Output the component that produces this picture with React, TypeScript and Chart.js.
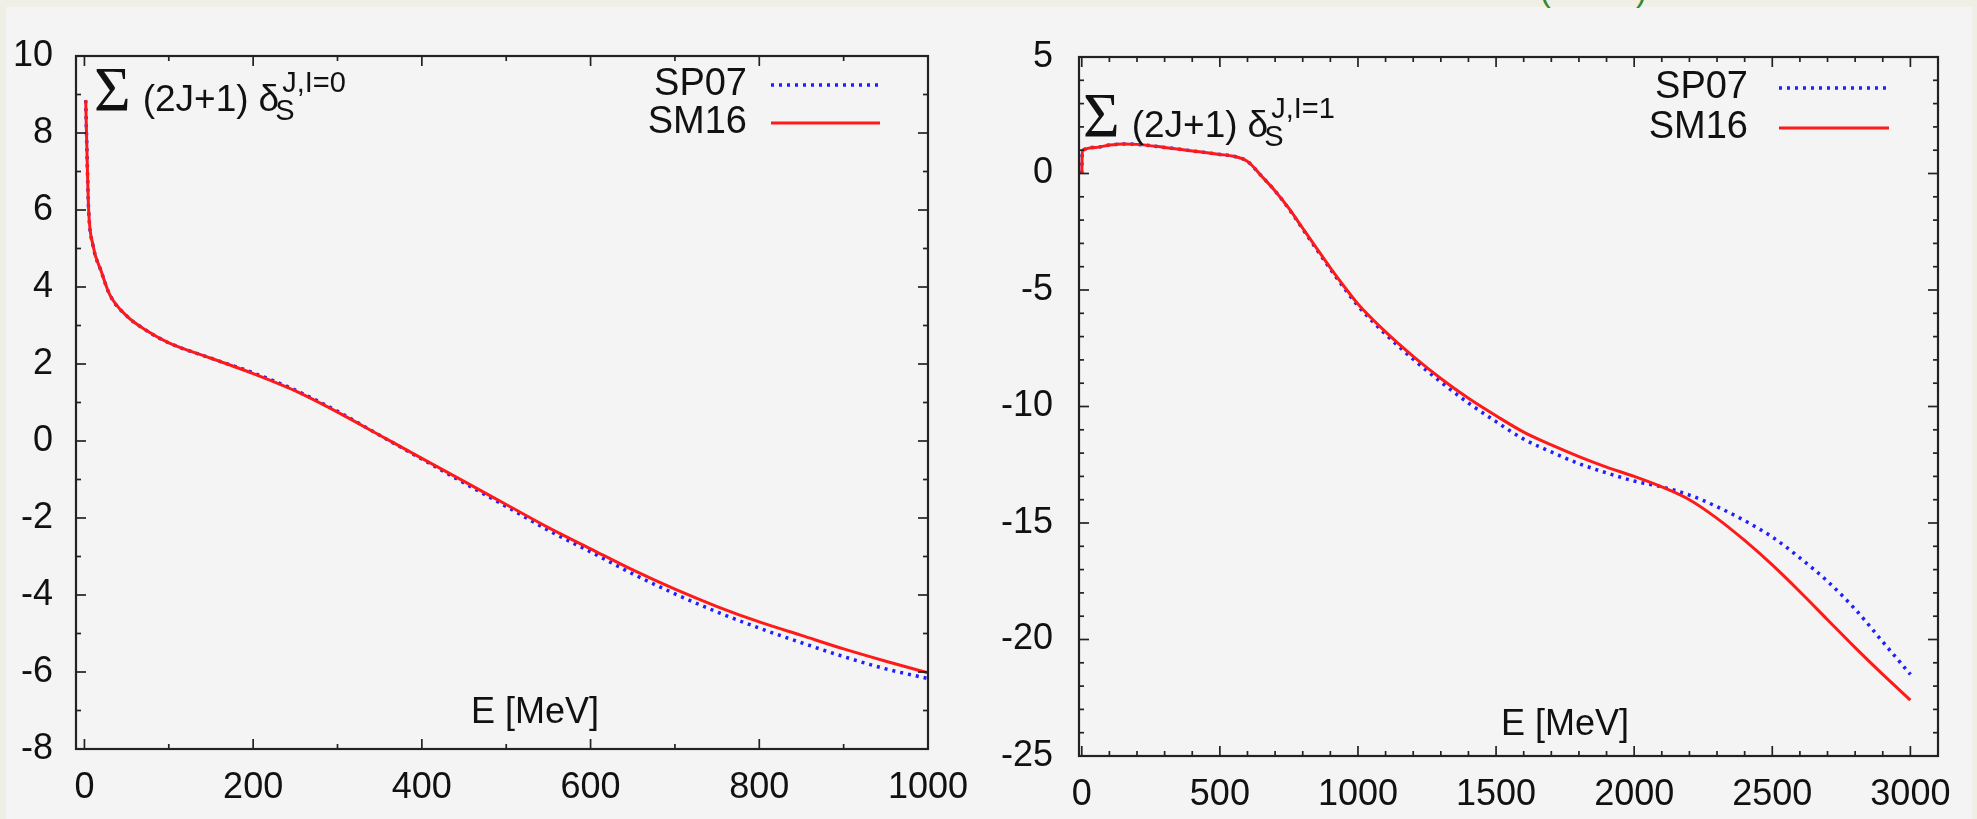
import React, { useEffect, useRef } from 'react';
import { Chart, registerables } from 'chart.js';

Chart.register(...registerables);

// ---------- data ----------
const energyI0 = [1.5, 3, 5, 10, 20, 30, 50, 75, 100, 150, 200, 250, 300, 350, 400, 450, 500, 550, 600, 650, 700, 750, 800, 850, 900, 950, 1000];
const sm16I0 = [8.85, 7.5, 6.0, 5.1, 4.4, 3.8, 3.25, 2.85, 2.55, 2.15, 1.75, 1.3, 0.75, 0.15, -0.45, -1.05, -1.65, -2.25, -2.8, -3.35, -3.85, -4.3, -4.7, -5.05, -5.4, -5.72, -6.02];
const sp07I0 = [8.85, 7.5, 6.0, 5.1, 4.4, 3.8, 3.25, 2.85, 2.55, 2.15, 1.77, 1.32, 0.77, 0.15, -0.47, -1.09, -1.7, -2.32, -2.88, -3.45, -3.97, -4.44, -4.86, -5.24, -5.6, -5.92, -6.17];

const energyI1 = [0, 2, 50, 100, 150, 200, 300, 400, 500, 550, 600, 650, 700, 750, 800, 850, 900, 950, 1000, 1100, 1200, 1300, 1400, 1500, 1600, 1700, 1800, 1900, 2000, 2100, 2200, 2300, 2400, 2500, 2600, 2700, 2800, 2900, 3000];
const sm16I1 = [0, 0.98, 1.12, 1.22, 1.27, 1.25, 1.12, 0.97, 0.82, 0.74, 0.52, -0.1, -0.75, -1.5, -2.35, -3.2, -4.05, -4.85, -5.6, -6.8, -7.85, -8.8, -9.65, -10.4, -11.1, -11.65, -12.15, -12.6, -13.0, -13.45, -14.0, -14.8, -15.75, -16.8, -17.95, -19.15, -20.35, -21.5, -22.6];
const sp07I1 = [0, 0.98, 1.12, 1.22, 1.27, 1.25, 1.12, 0.97, 0.82, 0.74, 0.52, -0.1, -0.75, -1.52, -2.38, -3.25, -4.1, -4.92, -5.68, -6.9, -7.97, -8.95, -9.85, -10.65, -11.4, -11.95, -12.45, -12.85, -13.2, -13.45, -13.8, -14.3, -14.9, -15.6, -16.5, -17.5, -18.7, -20.1, -21.5];

const xTicksI0 = [0, 200, 400, 600, 800, 1000];
const yTicksI0 = [10, 8, 6, 4, 2, 0, -2, -4, -6, -8];
const xTicksI1 = [0, 500, 1000, 1500, 2000, 2500, 3000];
const yTicksI1 = [5, 0, -5, -10, -15, -20, -25];

const seriesNames = ['SP07', 'SM16'];
const xLabel = 'E [MeV]';

// ---------- styles ----------
const BLUE = '#1f1fff';
const RED = '#ff1a1a';
const SANS = '"Liberation Sans", Arial, Helvetica, sans-serif';
const SERIF = '"Liberation Serif", "Times New Roman", serif';

const gnuPlugin = {
  id: 'gnu',
  afterDatasetsDraw(chart: any, _args: any, o: any) {
    const ctx = chart.ctx as CanvasRenderingContext2D;
    const a = chart.chartArea;
    const xs = chart.scales.x;
    const ys = chart.scales.y;
    ctx.save();
    // ticks (inward, all four sides)
    ctx.strokeStyle = '#222';
    ctx.lineWidth = 1.7;
    const seg = (x1: number, y1: number, x2: number, y2: number) => {
      ctx.beginPath();
      ctx.moveTo(x1, y1);
      ctx.lineTo(x2, y2);
      ctx.stroke();
    };
    const xStart = Math.ceil(xs.min / o.xMinor) * o.xMinor;
    for (let v = xStart; v <= xs.max + 1e-9; v += o.xMinor) {
      const major = Math.abs(v / o.xMajor - Math.round(v / o.xMajor)) < 1e-6;
      const len = major ? 10 : 5;
      const px = xs.getPixelForValue(v);
      seg(px, a.bottom, px, a.bottom - len);
      seg(px, a.top, px, a.top + len);
    }
    const yStart = Math.ceil(ys.min / o.yMinor) * o.yMinor;
    for (let v = yStart; v <= ys.max + 1e-9; v += o.yMinor) {
      const major = Math.abs(v / o.yMajor - Math.round(v / o.yMajor)) < 1e-6;
      const len = major ? 10 : 5;
      const py = ys.getPixelForValue(v);
      seg(a.left, py, a.left + len, py);
      seg(a.right, py, a.right - len, py);
    }
    // frame
    ctx.lineWidth = 2.2;
    ctx.strokeRect(a.left, a.top, a.right - a.left, a.bottom - a.top);

    // legend (gnuplot style: text right aligned, sample to the right)
    ctx.font = `38px ${SANS}`;
    ctx.textAlign = 'right';
    ctx.textBaseline = 'middle';
    chart.data.datasets.forEach((ds: any, i: number) => {
      const yy = a.top + o.legendY[i];
      ctx.fillStyle = '#111';
      ctx.fillText(ds.label, a.left + o.legendTextRight, yy);
      ctx.save();
      ctx.strokeStyle = ds.borderColor;
      ctx.lineWidth = ds.borderWidth;
      ctx.setLineDash(ds.borderDash || []);
      seg(a.left + o.legendLine[0], yy, a.left + o.legendLine[1], yy);
      ctx.restore();
    });

    // title: Σ (2J+1) δ_S^{J,I=n}
    ctx.textAlign = 'left';
    ctx.textBaseline = 'alphabetic';
    ctx.fillStyle = '#111';
    let tx = a.left + o.titleX;
    const by = a.top + o.titleBase;
    ctx.font = `63px ${SERIF}`;
    ctx.fillText('Σ', tx, by);
    tx += ctx.measureText('Σ').width + 12;
    ctx.font = `37px ${SANS}`;
    ctx.fillText('(2J+1)', tx, by);
    tx += ctx.measureText('(2J+1)').width + 10;
    ctx.fillText('δ', tx, by);
    const dw = ctx.measureText('δ').width;
    ctx.font = `29px ${SANS}`;
    ctx.fillText('S', tx + dw - 4, by + 9);
    ctx.fillText(o.sup, tx + dw + 3, by - 19);

    // axis label inside plot
    ctx.font = `36px ${SANS}`;
    ctx.textAlign = 'center';
    ctx.textBaseline = 'middle';
    ctx.fillText(xLabel, a.left + o.xLabelX, a.top + o.xLabelY);
    ctx.restore();
  },
};

function makeConfig(p: any) {
  const tickFont = { family: SANS, size: 36 };
  const plain = (v: any) => String(v);
  return {
    type: 'line',
    data: {
      datasets: [
        {
          label: seriesNames[0],
          data: p.energy.map((e: number, i: number) => ({ x: e, y: p.sp07[i] })),
          borderColor: BLUE,
          borderWidth: 3.5,
          borderDash: [3, 5],
          pointRadius: 0,
          fill: false,
          cubicInterpolationMode: 'monotone',
          order: 1,
        },
        {
          label: seriesNames[1],
          data: p.energy.map((e: number, i: number) => ({ x: e, y: p.sm16[i] })),
          borderColor: RED,
          borderWidth: 3,
          pointRadius: 0,
          fill: false,
          cubicInterpolationMode: 'monotone',
          order: 0,
        },
      ],
    },
    options: {
      responsive: false,
      animation: false,
      devicePixelRatio: 1,
      layout: { padding: { top: p.padTop, right: p.padRight, left: 0, bottom: 0 } },
      plugins: {
        legend: { display: false },
        tooltip: { enabled: false },
        gnu: p.gnu,
      },
      scales: {
        x: {
          type: 'linear',
          min: p.xMin,
          max: p.xMax,
          afterBuildTicks: (s: any) => { s.ticks = p.xTicks.map((v: number) => ({ value: v })); },
          afterFit: (s: any) => { s.height = p.xAxisH; },
          grid: { display: false, drawTicks: false },
          border: { display: false },
          ticks: { font: tickFont, color: '#111', padding: 17, maxRotation: 0, autoSkip: false, callback: plain },
        },
        y: {
          type: 'linear',
          min: p.yMin,
          max: p.yMax,
          afterBuildTicks: (s: any) => { s.ticks = p.yTicks.map((v: number) => ({ value: v })); },
          afterFit: (s: any) => { s.width = p.yAxisW; },
          grid: { display: false, drawTicks: false },
          border: { display: false },
          ticks: { font: tickFont, color: '#111', padding: p.yPad, autoSkip: false, callback: plain },
        },
      },
    },
    plugins: [gnuPlugin],
  };
}

const leftParams = {
  energy: energyI0, sm16: sm16I0, sp07: sp07I0,
  xMin: -10, xMax: 1000, yMin: -8, yMax: 10,
  xTicks: xTicksI0, yTicks: yTicksI0,
  padTop: 56, padRight: 72, xAxisH: 70, yAxisW: 76, yPad: 23,
  gnu: {
    xMajor: 200, xMinor: 100, yMajor: 2, yMinor: 1,
    legendY: [29, 67], legendTextRight: 671, legendLine: [695, 804],
    titleX: 18, titleBase: 55, sup: 'J,I=0',
    xLabelX: 459, xLabelY: 657,
  },
};

const rightParams = {
  energy: energyI1, sm16: sm16I1, sp07: sp07I1,
  xMin: -10, xMax: 3100, yMin: -25, yMax: 5,
  xTicks: xTicksI1, yTicks: yTicksI1,
  padTop: 57, padRight: 39, xAxisH: 63, yAxisW: 79, yPad: 26,
  gnu: {
    xMajor: 500, xMinor: 100, yMajor: 5, yMinor: 1,
    legendY: [31, 71], legendTextRight: 669, legendLine: [700, 810],
    titleX: 4, titleBase: 80, sup: 'J,I=1',
    xLabelX: 486, xLabelY: 668,
  },
};

function GnuChart({ params, left, width }: { params: any; left: number; width: number }) {
  const ref = useRef<HTMLCanvasElement | null>(null);
  useEffect(() => {
    if (!ref.current) return;
    const chart = new Chart(ref.current, makeConfig(params) as any);
    return () => chart.destroy();
  }, [params]);
  return (
    <canvas
      ref={ref}
      width={width}
      height={819}
      style={{ position: 'absolute', left, top: 0, width, height: 819 }}
    />
  );
}

export default function App() {
  return (
    <div
      style={{
        position: 'absolute',
        left: 0,
        top: 0,
        width: 1977,
        height: 819,
        background: '#efefe6',
        overflow: 'hidden',
      }}
    >
      <div style={{ position: 'absolute', left: 6, top: 7, width: 1966, height: 812, background: '#f4f4f4' }} />
      <div
        style={{
          position: 'absolute', left: 1530, top: 0, width: 130, height: 13, overflow: 'hidden',
          color: '#2e8b2e', fontFamily: SANS, fontSize: 32,
        }}
      >
        <span style={{ position: 'absolute', left: 10, top: -28 }}>(</span>
        <span style={{ position: 'absolute', left: 106, top: -28 }}>)</span>
      </div>
      <GnuChart params={leftParams} left={0} width={1000} />
      <GnuChart params={rightParams} left={1000} width={977} />
    </div>
  );
}
